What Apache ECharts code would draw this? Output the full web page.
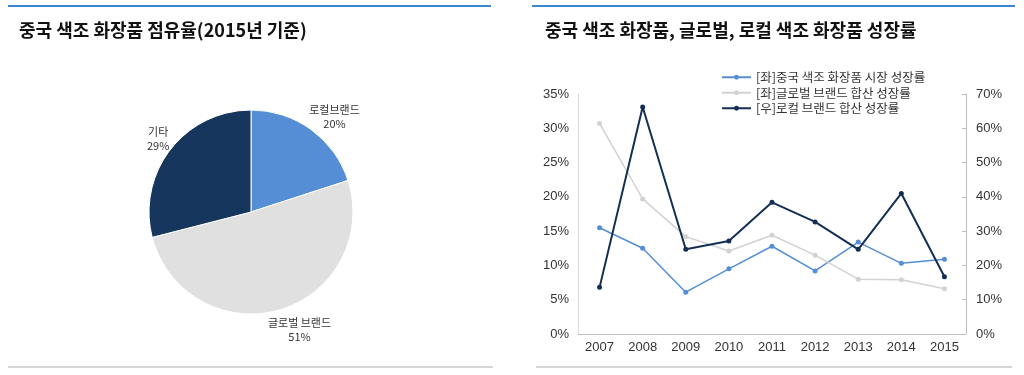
<!DOCTYPE html>
<html><head><meta charset="utf-8">
<script src="https://cdn.jsdelivr.net/npm/echarts@6/dist/echarts.min.js"></script>
<style>html,body{margin:0;padding:0;background:#fff}#c{width:1024px;height:375px}</style>
</head><body><div id="c"></div>
<script>
const pieNames = ['로컬브랜드', '글로벌 브랜드', '기타'];
const pieValues = [20, 51, 29];
const years = ['2007','2008','2009','2010','2011','2012','2013','2014','2015'];
const chinaMarket = [15.5, 12.5, 6.1, 9.5, 12.8, 9.2, 13.4, 10.3, 10.9];
const globalBrand = [30.7, 19.7, 14.2, 12.1, 14.4, 11.5, 8.0, 7.9, 6.6];
const localBrand = [13.6, 66.2, 24.7, 27.1, 38.4, 32.7, 24.7, 41.0, 16.7];
const seriesNames = ['[좌]중국 색조 화장품 시장 성장률', '[좌]글로벌 브랜드 합산 성장률', '[우]로컬 브랜드 합산 성장률'];
const leftTicks = [0, 5, 10, 15, 20, 25, 30, 35];
const rightTicks = [0, 10, 20, 30, 40, 50, 60, 70];

const FONT = '"Noto Sans CJK KR", "Noto Sans", sans-serif';
const NUM = '"Liberation Sans", Arial, sans-serif';
const cBlue = '#558ed5', cGray = '#d2d2d2', cDark = '#142f55';
const labelNudgeX = [8, 10, 7];
const labelNudgeY = [2, 3, 0];

const chart = echarts.init(document.getElementById('c'), null, {renderer: 'canvas'});
chart.setOption({
  animation: false,
  textStyle: {fontFamily: FONT},
  title: [
    {text: '중국 색조 화장품 점유율(2015년 기준)', left: 14, top: 16,
     textStyle: {fontFamily: FONT, fontSize: 18, fontWeight: 'bold', color: '#111'}},
    {text: '중국 색조 화장품, 글로벌, 로컬 색조 화장품 성장률', left: 540, top: 16,
     textStyle: {fontFamily: FONT, fontSize: 18, fontWeight: 'bold', color: '#111'}}
  ],
  graphic: [
    {type: 'line', shape: {x1: 8, y1: 6, x2: 491, y2: 6}, style: {stroke: '#3b86d0', lineWidth: 2}},
    {type: 'line', shape: {x1: 532, y1: 6, x2: 1015, y2: 6}, style: {stroke: '#3b86d0', lineWidth: 2}},
    {type: 'line', shape: {x1: 8, y1: 367, x2: 493, y2: 367}, style: {stroke: '#c8c8c8', lineWidth: 1.5}},
    {type: 'line', shape: {x1: 536, y1: 367, x2: 1012, y2: 367}, style: {stroke: '#c8c8c8', lineWidth: 1.5}}
  ],
  legend: {
    orient: 'vertical', left: 716, top: 66, itemGap: 3, itemWidth: 29, itemHeight: 6,
    data: seriesNames,
    textStyle: {fontFamily: FONT, fontSize: 12.5, color: '#333'}
  },
  grid: {left: 578, right: 58, top: 94, bottom: 41},
  xAxis: {
    type: 'category', data: years, boundaryGap: true,
    axisLine: {lineStyle: {color: '#bfbfbf'}},
    axisTick: {inside: true, length: 4, lineStyle: {color: '#bfbfbf'}},
    axisLabel: {fontFamily: NUM, fontSize: 13, color: '#333', margin: 7}
  },
  yAxis: [
    {type: 'value', min: 0, max: 35, interval: 5, position: 'left',
     axisLine: {show: true, lineStyle: {color: '#d9d9d9'}},
     axisTick: {show: false},
     splitLine: {show: false},
     axisLabel: {fontFamily: NUM, fontSize: 13, color: '#333', margin: 9,
       formatter: v => leftTicks.includes(v) ? v + '%' : ''}},
    {type: 'value', min: 0, max: 70, interval: 10, position: 'right',
     axisLine: {show: true, lineStyle: {color: '#bfbfbf'}},
     axisTick: {show: true, inside: true, length: 4, lineStyle: {color: '#bfbfbf'}},
     splitLine: {show: false},
     axisLabel: {fontFamily: NUM, fontSize: 13, color: '#333', margin: 10,
       formatter: v => rightTicks.includes(v) ? v + '%' : ''}}
  ],
  series: [
    {type: 'pie', center: [251, 212], radius: 102, startAngle: 90, clockwise: true,
     data: pieNames.map((n, i) => ({name: n, value: pieValues[i]})),
     color: [cBlue, '#e0e0e0', '#17365d'],
     itemStyle: {borderColor: '#fff', borderWidth: 1},
     label: {position: 'outside', fontFamily: FONT, fontSize: 11, color: '#333', lineHeight: 14,
       formatter: p => p.name + '\n' + p.value + '%'},
     labelLine: {show: false, length: 18, length2: 0},
     labelLayout: p => ({align: 'center', dx: labelNudgeX[p.dataIndex], dy: labelNudgeY[p.dataIndex]}),
     legendHoverLink: false
    },
    {name: seriesNames[0], type: 'line', yAxisIndex: 0, data: chinaMarket,
     color: cBlue, symbol: 'circle', symbolSize: 5, lineStyle: {width: 1.5}},
    {name: seriesNames[1], type: 'line', yAxisIndex: 0, data: globalBrand,
     color: cGray, symbol: 'circle', symbolSize: 5, lineStyle: {width: 1.5}},
    {name: seriesNames[2], type: 'line', yAxisIndex: 1, data: localBrand,
     color: cDark, symbol: 'circle', symbolSize: 5, lineStyle: {width: 2}}
  ]
});
</script></body></html>
